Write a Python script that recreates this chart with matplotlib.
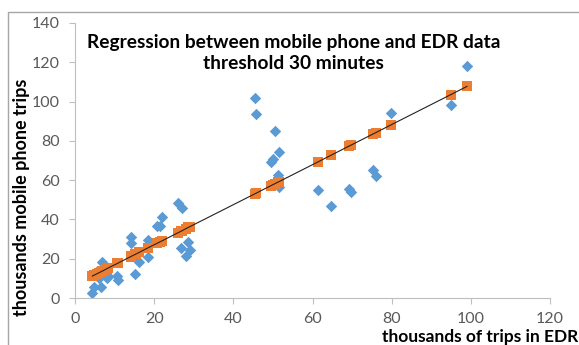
import numpy as np
import matplotlib
matplotlib.use('Agg')
import matplotlib.pyplot as plt
from matplotlib.patches import Rectangle

plt.rcParams['font.family'] = ['Lato', 'DejaVu Sans']

# EDR trips (thousands) per zone
edr = [4.4, 4.9, 5.5, 6.1, 6.6, 6.9, 7.5, 8.0, 8.4, 10.7, 10.9,
       14.1, 14.2, 15.2, 15.5, 16.2, 18.5, 18.5, 20.8, 21.5, 22.1,
       26.1, 26.7, 27.0, 28.0, 28.6, 29.0,
       45.5, 45.7, 49.5, 50.0, 50.5, 51.3, 51.5, 51.5,
       61.4, 64.7, 69.2, 69.8, 75.3, 76.0, 79.8, 95.0, 99.0]
# mobile phone trips (thousands), observed
phone = [2.7, 5.8, 13.0, 10.2, 5.8, 18.3, 15.5, 10.1, 11.0, 11.3, 9.2,
         30.9, 28.0, 12.1, 22.0, 18.1, 29.4, 20.7, 36.6, 36.9, 41.4,
         48.6, 25.5, 46.0, 21.5, 28.4, 24.6,
         102.0, 93.8, 69.0, 70.8, 85.0, 62.6, 74.4, 56.4,
         54.9, 46.7, 55.4, 53.8, 65.0, 62.0, 94.4, 98.5, 118.0]
# regression estimates
fitted = [11.2, 11.7, 12.3, 12.9, 13.4, 13.7, 14.3, 14.9, 15.3, 17.6, 17.8,
          21.1, 21.2, 22.2, 22.5, 23.2, 25.6, 25.6, 27.9, 28.6, 29.2,
          33.3, 33.9, 34.2, 35.3, 35.9, 36.3,
          53.1, 53.3, 57.2, 57.7, 58.2, 59.0, 59.2, 59.2,
          69.3, 72.7, 77.3, 77.9, 83.5, 84.2, 88.1, 103.6, 107.7]

W, H = 579, 345
fig = plt.figure(figsize=(W / 100, H / 100), dpi=100)
fig.patches.append(Rectangle((8 / W, -0.1), 1.2, (H - 12) / H + 0.1,
                             transform=fig.transFigure, fill=False,
                             edgecolor='#a6a6a6', linewidth=1))

ax = fig.add_axes([75 / W, (H - 298) / H, 475 / W, 275 / H])

ax.scatter(edr, phone, marker='D', s=34, color='#5b9bd5', linewidths=0, zorder=2)
ax.scatter(edr, fitted, marker='s', s=48, color='#ed7d31', linewidths=0, zorder=3)
order = np.argsort(edr)
ax.plot(np.array(edr)[order], np.array(fitted)[order], color='#222222', lw=0.8, zorder=4)

ax.set_xlim(0, 120)
ax.set_ylim(0, 140)
ax.set_xticks(range(0, 121, 20))
ax.set_yticks(range(0, 141, 20))
for s in ['top', 'right']:
    ax.spines[s].set_visible(False)
for s in ['left', 'bottom']:
    ax.spines[s].set_color('#bfbfbf')
ax.tick_params(colors='#bfbfbf', labelcolor='#595959', labelsize=11.5, length=4)
ax.tick_params(axis='x', pad=6)
ax.tick_params(axis='y', pad=7)

ax.text(0.46, 0.96, 'Regression between mobile phone and EDR data\nthreshold 30 minutes',
        transform=ax.transAxes, ha='center', va='top', fontsize=13.8,
        fontweight='bold', linespacing=1.3, color='#000000')

fig.text(22 / W, 1 - 197 / H, 'thousands mobile phone trips', rotation=90,
         ha='center', va='center', fontsize=13, fontweight='bold')
fig.text(578 / W, 1 - 337 / H, 'thousands of trips in EDR',
         ha='right', va='center', fontsize=12.5, fontweight='bold')

fig.savefig('out.png', dpi=100)
